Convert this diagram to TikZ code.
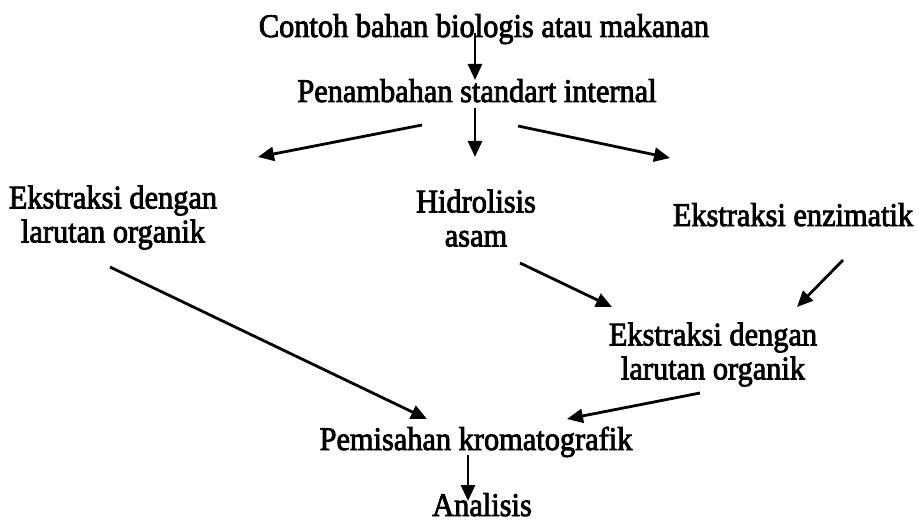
\documentclass[tikz,border=0pt]{standalone}
\usepackage{fontspec}
\setmainfont{Liberation Serif}
\newfontfamily\scanfont{Liberation Serif}[FakeBold=2.5,FakeStretch=0.92]
\usetikzlibrary{arrows.meta}
\begin{document}
\begin{tikzpicture}[x=1pt,y=-1pt,
  lbl/.style={inner sep=0pt,outer sep=0pt,font=\scanfont\fontsize{33}{34}\selectfont,align=center},
  arr/.style={line width=2.8pt,-{Triangle[length=16pt,width=14pt]}}]
\useasboundingbox (0,0) rectangle (919,524);
\node[lbl,anchor=base] (c) at (484,37) {Contoh bahan biologis atau makanan};
\node[lbl,anchor=base] (p) at (477,102) {Penambahan standart internal};
\node[lbl,anchor=north] (e1) at (113,185.5) {Ekstraksi dengan\\larutan organik};
\node[lbl,anchor=north] (h) at (476,189.5) {Hidrolisis\\asam};
\node[lbl,anchor=base] (ez) at (793,226) {Ekstraksi enzimatik};
\node[lbl,anchor=north] (e2) at (713,322.5) {Ekstraksi dengan\\larutan organik};
\node[lbl,anchor=base] (pk) at (476,450) {Pemisahan kromatografik};
\node[lbl,anchor=base] (an) at (482,516) {Analisis};
\draw[arr] ([shift={(-9,-4)}]c.base) -- ([shift={(-2,-22)}]p.base);
\draw[arr] ([shift={(-2,6)}]p.base) -- ([shift={(-1,-32.5)}]h.north);
\draw[arr] ([shift={(-55,23)}]p.base) -- ([shift={(145,-28.5)}]e1.north);
\draw[arr] ([shift={(41,24)}]p.base) -- ([shift={(-123,-68)}]ez.base);
\draw[arr] ([shift={(-3,81.5)}]e1.north) -- ([shift={(-49,-31)}]pk.base);
\draw[arr] ([shift={(44,73.5)}]h.north) -- ([shift={(-101,-15.5)}]e2.north);
\draw[arr] ([shift={(50,34)}]ez.base) -- ([shift={(84,-15.5)}]e2.north);
\draw[arr] ([shift={(-13,70.5)}]e2.north) -- ([shift={(91,-31)}]pk.base);
\draw[arr] ([shift={(-8,5)}]pk.base) -- ([shift={(-14,-15)}]an.base);
\end{tikzpicture}
\end{document}
